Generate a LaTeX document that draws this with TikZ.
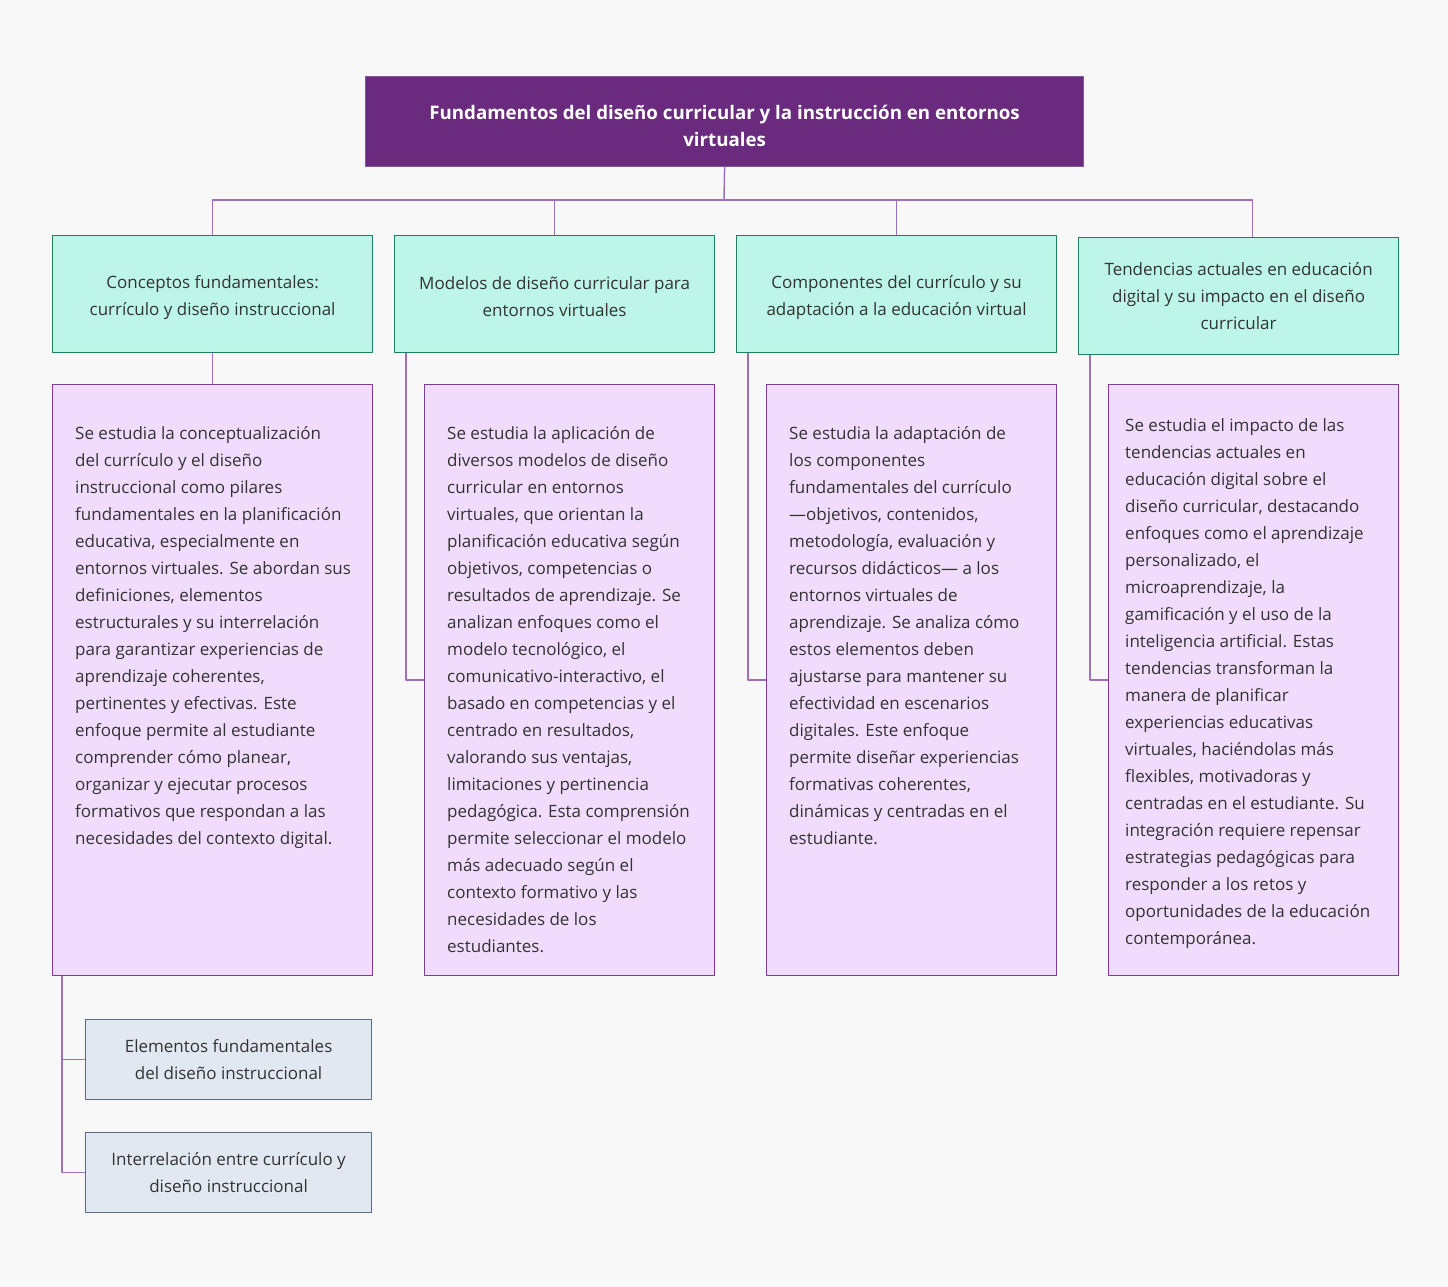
\documentclass[tikz,border=0pt]{standalone}
\usepackage{fontspec}
\setmainfont{Open Sans}
\usetikzlibrary{positioning}
\definecolor{fondo}{HTML}{F8F8F8}
\definecolor{raiz}{HTML}{6A2B7E}
\definecolor{menta}{HTML}{BDF5E8}
\definecolor{verde}{HTML}{1E7F5F}
\definecolor{lila}{HTML}{F2DCFD}
\definecolor{morado}{HTML}{7B3C98}
\definecolor{gris}{HTML}{E2E8F2}
\definecolor{pizarra}{HTML}{5C6B82}
\definecolor{linea}{HTML}{9E70BA}
\definecolor{texto}{HTML}{333333}
\begin{document}
\begin{tikzpicture}[x=1pt, y=-1pt, line join=round,
 raizbox/.style={draw=raiz!80!white, line width=1.2pt, fill=raiz, anchor=north west, inner sep=0pt, minimum width=718pt, minimum height=90pt},
 temabox/.style={draw=verde, line width=1.2pt, fill=menta, anchor=north west, inner sep=0pt, minimum width=320pt, minimum height=117pt},
 temalabel/.style={text=texto, align=center, inner sep=0pt, yshift=-3pt, font=\fontsize{17}{27}\selectfont},
 detbox/.style={draw=morado, line width=1.2pt, fill=lila, anchor=north west, inner sep=0pt, minimum width=290pt, minimum height=591pt},
 subbox/.style={draw=pizarra, line width=1.2pt, fill=gris, anchor=north west, inner sep=0pt, minimum width=286pt, minimum height=80pt, text=texto, align=center, font=\fontsize{17}{27}\selectfont},
 parrafo/.style={anchor=north west, inner sep=0pt, align=left, text=texto, font=\fontsize{17}{27}\selectfont},
 conector/.style={draw=linea, line width=1.5pt}]
 \fill[fondo] (0,0) rectangle (1448,1287);
 \useasboundingbox (0,0) rectangle (1448,1287);
 % raiz
 \node[raizbox] (raiz) at (365,76) {};
 \node[text=white, align=center, yshift=-4pt, font=\bfseries\fontsize{18.7}{27}\selectfont] (titulo) at (raiz.center) {Fundamentos del diseño curricular y la instrucción en entornos\\virtuales};
 % temas
 \node[temabox] (tema1) at (52,235) {};
 \node[temabox] (tema2) at (394,235) {};
 \node[temabox] (tema3) at (736,235) {};
 \node[temabox] (tema4) at (1078,237) {};
 \node[temalabel] (lab1) at (tema1.center) {Conceptos fundamentales:\\currículo y diseño instruccional};
 \node[temalabel] (lab2) at (tema2.center) {Modelos de diseño curricular para\\entornos virtuales};
 \node[temalabel] (lab3) at (tema3.center) {Componentes del currículo y su\\adaptación a la educación virtual};
 \node[temalabel, yshift=3pt] (lab4) at (tema4.center) {Tendencias actuales en educación\\digital y su impacto en el diseño\\curricular};
 % detalles
 \node[detbox, minimum width=320pt] (det1) at (52,384) {};
 \node[detbox] (det2) at (424,384) {};
 \node[detbox] (det3) at (766,384) {};
 \node[detbox] (det4) at (1108,384) {};
 \node[parrafo] (txt1) at (75,426) {Se estudia la conceptualización\\del currículo y el diseño\\instruccional como pilares\\fundamentales en la planificación\\educativa, especialmente en\\entornos virtuales. Se abordan sus\\definiciones, elementos\\estructurales y su interrelación\\para garantizar experiencias de\\aprendizaje coherentes,\\pertinentes y efectivas. Este\\enfoque permite al estudiante\\comprender cómo planear,\\organizar y ejecutar procesos\\formativos que respondan a las\\necesidades del contexto digital.};
 \node[parrafo] (txt2) at (447,426) {Se estudia la aplicación de\\diversos modelos de diseño\\curricular en entornos\\virtuales, que orientan la\\planificación educativa según\\objetivos, competencias o\\resultados de aprendizaje. Se\\analizan enfoques como el\\modelo tecnológico, el\\comunicativo-interactivo, el\\basado en competencias y el\\centrado en resultados,\\valorando sus ventajas,\\limitaciones y pertinencia\\pedagógica. Esta comprensión\\permite seleccionar el modelo\\más adecuado según el\\contexto formativo y las\\necesidades de los\\estudiantes.};
 \node[parrafo] (txt3) at (789,426) {Se estudia la adaptación de\\los componentes\\fundamentales del currículo\\—objetivos, contenidos,\\metodología, evaluación y\\recursos didácticos— a los\\entornos virtuales de\\aprendizaje. Se analiza cómo\\estos elementos deben\\ajustarse para mantener su\\efectividad en escenarios\\digitales. Este enfoque\\permite diseñar experiencias\\formativas coherentes,\\dinámicas y centradas en el\\estudiante.};
 \node[parrafo] (txt4) at (1125,418) {Se estudia el impacto de las\\tendencias actuales en\\educación digital sobre el\\diseño curricular, destacando\\enfoques como el aprendizaje\\personalizado, el\\microaprendizaje, la\\gamificación y el uso de la\\inteligencia artificial. Estas\\tendencias transforman la\\manera de planificar\\experiencias educativas\\virtuales, haciéndolas más\\flexibles, motivadoras y\\centradas en el estudiante. Su\\integración requiere repensar\\estrategias pedagógicas para\\responder a los retos y\\oportunidades de la educación\\contemporánea.};
 % subtemas
 \node[subbox] (sub1) at (85,1019) {Elementos fundamentales\\del diseño instruccional};
 \node[subbox] (sub2) at (85,1132) {Interrelación entre currículo y\\diseño instruccional};
 % conectores
 \coordinate (bus) at (724,200);
 \draw[conector] (raiz.south) -- (bus);
 \foreach \t in {tema1,tema2,tema3}
  \draw[conector] (bus) -| (\t.north);
 \draw[conector] (bus) -| ([xshift=14pt]tema4.north);
 \draw[conector] (tema1.south) -- (tema1.south |- det1.north);
 \foreach \n in {2,3,4}
  \draw[conector] ([xshift=12pt]tema\n.south west) |- (det\n.west);
 \draw[conector] ([xshift=10pt]det1.south west) |- (sub1.west);
 \draw[conector] ([xshift=10pt]det1.south west) |- (sub2.west);
\end{tikzpicture}
\end{document}
